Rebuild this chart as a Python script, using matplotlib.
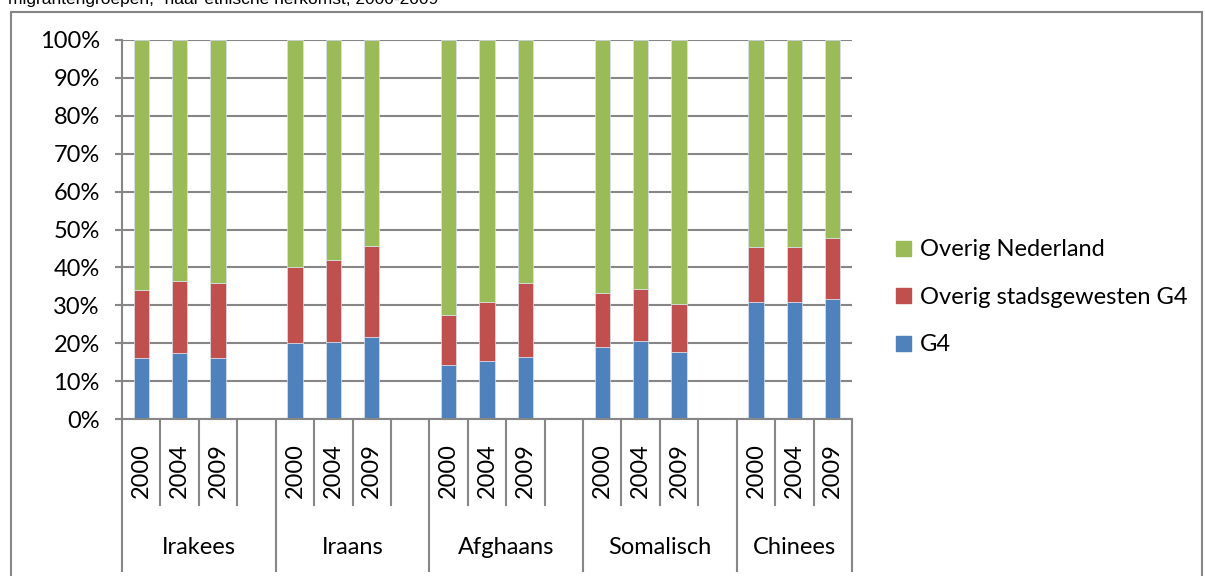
import matplotlib.pyplot as plt
from matplotlib.patches import Rectangle
from matplotlib.transforms import blended_transform_factory

groups = ["Irakees", "Iraans", "Afghaans", "Somalisch", "Chinees"]
years = ["2000", "2004", "2009"]

# share living in G4 (%), per group, per year
g4 = [
    [16.2, 17.3, 16.2],
    [20.0, 20.2, 21.6],
    [14.2, 15.4, 16.3],
    [19.0, 20.6, 17.8],
    [31.0, 30.9, 31.6],
]
# cumulative top of "Overig stadsgewesten G4" (%)
g4_plus_rest = [
    [34.0, 36.4, 35.9],
    [40.1, 42.0, 45.6],
    [27.5, 30.9, 36.0],
    [33.2, 34.3, 30.3],
    [45.3, 45.5, 47.8],
]

blue = "#4F81BD"
red = "#C0504D"
green = "#9BBB59"
grey = "#868686"
fs = 17

plt.rcParams["font.family"] = ["Lato", "DejaVu Sans"]

fig = plt.figure(figsize=(12.05, 5.76), dpi=100)
ax = fig.add_axes([122 / 1205, 1 - 419 / 576, 730 / 1205, 379 / 576])

slots_per_group = 4
n_slots = len(groups) * slots_per_group - 1

for gi, grp in enumerate(groups):
    for yi, yr in enumerate(years):
        x = gi * slots_per_group + yi + 0.5
        a = g4[gi][yi]
        b = g4_plus_rest[gi][yi] - a
        c = 100 - g4_plus_rest[gi][yi]
        kw = dict(width=0.4, edgecolor="#dbe3ee", linewidth=0.5)
        ax.bar(x, a, color=blue, **kw)
        ax.bar(x, b, bottom=a, color=red, **kw)
        ax.bar(x, c, bottom=a + b, color=green, **kw)

ax.set_xlim(0, n_slots)
ax.set_ylim(0, 100)
ax.set_yticks(range(0, 101, 10))
ax.set_yticklabels([f"{v}%" for v in range(0, 101, 10)], fontsize=fs)
ax.tick_params(axis="y", length=5, width=1.5, color=grey, pad=11)
ax.set_xticks([])
ax.yaxis.grid(True, color=grey, linewidth=1.5)
ax.set_axisbelow(True)
for s in ["top", "right"]:
    ax.spines[s].set_visible(False)
ax.spines["left"].set_color(grey)
ax.spines["left"].set_linewidth(1.5)
ax.spines["bottom"].set_color(grey)
ax.spines["bottom"].set_linewidth(1.5)

# multi-level category axis
tr = blended_transform_factory(ax.transData, ax.transAxes)
year_bottom = -0.227
group_bottom = -0.40
ax.plot([0, 0], [0, group_bottom], color=grey, lw=1.5, transform=tr, clip_on=False)
for gi, grp in enumerate(groups):
    start = gi * slots_per_group
    n_in = min(slots_per_group, n_slots - start)
    for k in range(1, n_in + 1):
        xk = start + k
        bottom = group_bottom if (k == n_in) else year_bottom
        ax.plot([xk, xk], [0, bottom], color=grey, lw=1.5, transform=tr, clip_on=False)
    for yi, yr in enumerate(years):
        ax.text(start + yi + 0.5, -0.135, yr, rotation=90, ha="center", va="center",
                fontsize=fs, transform=tr)
    ax.text(start + n_in / 2, -0.34, grp, ha="center", va="center",
            fontsize=fs, transform=tr)

# legend
handles = [Rectangle((0, 0), 1, 1, color=c) for c in (green, red, blue)]
fig.legend(handles, ["Overig Nederland", "Overig stadsgewesten G4", "G4"],
           loc="upper left", bbox_to_anchor=(887 / 1205, 1 - 230 / 576),
           frameon=False, fontsize=fs, handlelength=0.6, handleheight=0.6,
           handletextpad=0.4, labelspacing=1.12, borderaxespad=0)

# outer chart frame and clipped title line
fig.patches.append(Rectangle((11 / 1205, -0.05), 1191 / 1205, 1.05 - 12 / 576,
                             transform=fig.transFigure, fill=False,
                             edgecolor=grey, linewidth=1.5))
fig.text(8 / 1205, 1 - 4 / 576, "migrantengroepen,\u00b9 naar etnische herkomst, 2000-2009",
         family=["Liberation Sans", "DejaVu Sans"], fontsize=12.5, va="baseline")

fig.savefig("out.png", dpi=100)
